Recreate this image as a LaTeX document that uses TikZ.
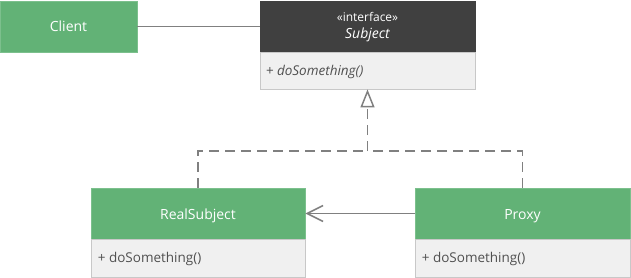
\documentclass[tikz,border=0pt]{standalone}
\usepackage{fontspec}
\setmainfont{Open Sans}
\usetikzlibrary{arrows.meta}
\definecolor{umlgreen}{HTML}{62B276}
\definecolor{umlgreenb}{HTML}{7CC08D}
\definecolor{umldark}{HTML}{404040}
\definecolor{umlbody}{HTML}{F0F0F0}
\definecolor{umlbodyb}{HTML}{C8C8C8}
\definecolor{umlline}{HTML}{808080}
\definecolor{umltext}{HTML}{505050}
\begin{document}
\begin{tikzpicture}[x=1pt,y=-1pt,
  greenhead/.style={draw=umlgreenb, fill=umlgreen, text=white, line width=0.8pt,
    inner sep=0pt, font=\fontsize{14}{16}\selectfont},
  darkhead/.style={draw=umldark, fill=umldark, text=white, line width=0.8pt,
    inner sep=0pt, align=center},
  bodybox/.style={draw=umlbodyb, fill=umlbody, line width=0.8pt, inner sep=0pt},
  bodytext/.style={anchor=west, text=umltext, inner sep=0pt, font=\fontsize{13.5}{16}\selectfont},
  conn/.style={draw=umlline, line width=1.5pt},
  dashconn/.style={draw=umlline, line width=1.5pt, dash pattern=on 10pt off 6pt}
]
\useasboundingbox (0,0) rectangle (631,278);

% Client
\node[greenhead, minimum width=137pt, minimum height=51pt] (client) at (68.5,26.5) {Client};

% Interface Subject
\node[darkhead, minimum width=215pt, minimum height=52pt] (ihead) at (367.5,27)
  {{\fontsize{12}{14}\selectfont «interface»}\\[5pt]{\fontsize{14}{16}\selectfont\itshape Subject}};
\node[bodybox, minimum width=215pt, minimum height=37pt] (ibody) at (367.5,70.5) {};
\node[bodytext, font=\fontsize{13.5}{16}\selectfont\itshape] (itxt) at ([xshift=6pt,yshift=-1pt]ibody.west) {+ doSomething()};

% RealSubject
\node[greenhead, minimum width=214pt, minimum height=51pt, text depth=0pt] (rhead) at (198,213.5) {\raisebox{-1.5pt}{RealSubject}};
\node[bodybox, minimum width=214pt, minimum height=38pt] (rbody) at (198,258) {};
\node[bodytext] (rtxt) at ([xshift=7pt,yshift=-1pt]rbody.west) {+ doSomething()};

% Proxy
\node[greenhead, minimum width=215pt, minimum height=51pt, text depth=0pt] (phead) at (522.5,213.5) {\raisebox{-1.5pt}{Proxy}};
\node[bodybox, minimum width=215pt, minimum height=38pt] (pbody) at (522.5,258) {};
\node[bodytext] (ptxt) at ([xshift=7pt,yshift=-1pt]pbody.west) {+ doSomething()};

% connectors
\coordinate (j) at (367.5,151);
\draw[conn] (client.east) -- (ihead.west |- client.east);
\draw[dashconn] (rhead.north) |- (j);
\draw[dashconn] (phead.north) |- (j);
\draw[dashconn, -{Triangle[open, length=18pt, width=14pt, fill=white, line width=1.5pt]}] (j) -- (ibody.south);
\draw[conn, -{Straight Barb[length=16pt, width=16pt, line width=1.5pt]}] (phead.west) -- (rhead.east);
\end{tikzpicture}
\end{document}
